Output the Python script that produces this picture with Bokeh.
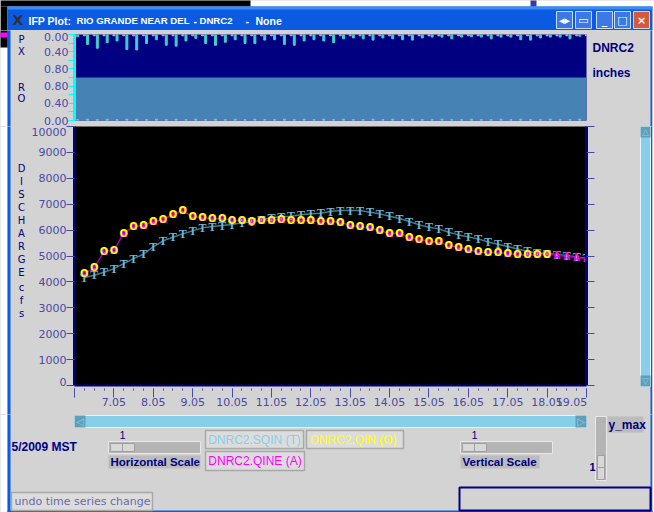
from bokeh.plotting import figure
from bokeh.layouts import column, row
from bokeh.models import BoxAnnotation, FixedTicker, LinearAxis, Range1d
from bokeh.core.properties import value
from bokeh.embed import file_html
from bokeh.resources import INLINE
import numpy as np

# ---- data -----------------------------------------------------------
qine = [4320,4539,5170,5222,5880,6125,6189,6318,6408,6602,6744,6524,6473,6434,6434,6370,6370,6344,6357,6382,6408,6382,6357,6357,6344,6344,
        6305,6176,6125,6086,5970,5880,5880,5712,5647,5557,5544,5402,5338,5248,5157,5132,5132,5106,5041,5041,5041,5054,5028,4977,4938,4887]
qin = qine[:48]
sqin = [4165,4255,4371,4513,4706,4900,5067,5351,5583,5725,5854,5970,6086,6137,6176,6215,6279,6318,6382,6486,6512,6537,6589,6627,6653,6717,
        6756,6756,6756,6692,6627,6537,6447,6331,6202,6112,6047,5918,5815,5738,5660,5544,5454,5364,5273,5183,5119,5093,5054,5015,4964,4912]
px_fcst = [.05,.23,.32,.19,.15,.35,.36,.21,.12,.25,.27,.15,.09,.21,.25,.18,.12,.21,.21,.13,.12,.23,.25,.15,.12,.15,
           .19,.10,.08,.10,.13,.08,.10,.12,.13,.08,.06,.06,.10,.06,.05,.06,.10,.06,.06,.12,.13,.08,.06,.06,.10,.04]
ro_fcst = [.02,.03,.02,.03,.02,.03,.03,.02,.03,.02,.03,.02,.03,.02,.03,.02,.03,.02,.03,.02,.02,.03,.02,.03,.02,.03,
           .02,.03,.02,.02,.03,.02,.03,.02,.03,.02,.02,.03,.02,.02,.03,.02,.02,.03,.02,.03,.02,.02,.03,.02,.02,.03]
x_mark_ticks = [6,7,8,9,10,11,12,13,14,15,16,17,18,19]
x_label_pos = [7,8,9,10,11,12,13,14,15,16,17,18,18.62]
x_labels = ["7.05","8.05","9.05","10.05","11.05","12.05","13.05","14.05","15.05","16.05","17.05","18.05","19.05"]
y_mark_ticks = [0,1000,2000,3000,4000,5000,6000,7000,8000,9000,10000]
y_label_pos = [150,1000,2000,3000,4000,5000,6000,7000,8000,9000,9800]
y_labels = ["0","1000","2000","3000","4000","5000","6000","7000","8000","9000","10000"]
p_mark_ticks = [i/5 for i in range(11)]
p_label_pos = [0,0.4,0.8,1.2,1.6,1.95]
p_labels = ["0.00","0.40","0.80","0.80","0.40","0.00"]
t_day = 6 + np.arange(1, 53) * 0.25       # six-hourly time steps, in days of May
t_bar = t_day - 0.17

GRAY = "#d3d3d3"; NAVY = "#000080"; STEEL = "#4682b4"; TICK = "#4a4aa6"; SKY = "#87ceeb"; XPBLUE = "#0a5ae2"
UI = "Liberation Sans"; DJ = "DejaVu Sans"
BG = {"background-color": GRAY}

def chrome(x0, x1, y0, y1):
    p = figure(width=x1-x0, height=y1-y0, x_range=Range1d(x0, x1), y_range=Range1d(y1, y0),
               x_axis_type=None, y_axis_type=None, output_backend="svg", toolbar_location=None,
               min_border=0, background_fill_color=GRAY, border_fill_color=GRAY, outline_line_color=None,
               styles=BG, frame_align=False)
    p.grid.visible = False
    return p

def box(p, l, t, r, b, fill, line=None, lw=1):
    p.quad(left=l, right=r, top=t, bottom=b, fill_color=fill, line_color=line, line_width=lw)

def lab(p, x, y, txt, color=NAVY, size=11, bold=False, align="left", font=UI):
    p.text([x], [y], text=[txt], text_color=color, text_font=value(font), text_font_size=f"{size}px",
           text_font_style="bold" if bold else "normal", text_align=align, text_baseline="middle")

def marks_axis(ticks, color, out, in_=0, line=NAVY, lw=3, minor=None):
    return LinearAxis(ticker=FixedTicker(ticks=ticks, minor_ticks=minor or []),
                      axis_line_color=line, axis_line_width=lw,
                      major_tick_line_color=color, major_tick_out=out, major_tick_in=in_,
                      minor_tick_line_color=color, minor_tick_out=5, minor_tick_in=in_,
                      major_label_text_color=None, major_label_text_font_size="0px", major_label_standoff=0)

def labels_axis(pos, labels, standoff=0):
    return LinearAxis(ticker=FixedTicker(ticks=pos), major_label_overrides=dict(zip(pos, labels)),
                      axis_line_color=None, major_tick_line_color=None, minor_tick_line_color=None,
                      major_tick_in=0, major_tick_out=0,
                      major_label_text_color=TICK, major_label_text_font=DJ, major_label_text_font_size="11px",
                      major_label_standoff=standoff)

# ---- title bar --------------------------------------------------------
bar = chrome(0, 654, 0, 30)
box(bar, 0, -1, 654, 31, "white")
box(bar, 0, -1, 250, 6, "black")
box(bar, 530, -1, 536, 6, "#3a3aa0")
box(bar, 0, 6, 7, 31, "black")
box(bar, 7, 6, 652, 31, XPBLUE)
box(bar, 7, 6, 652, 9, "#3a8cf5")
lab(bar, 12, 19, "X", "#303030", 14, True, font=DJ)
lab(bar, 28, 20, "IFP Plot:", "white", 10.5, True)
lab(bar, 76, 20, "RIO GRANDE NEAR DEL", "white", 9.6, True)
lab(bar, 193, 20, "-", "white", 10.5, True)
lab(bar, 199, 20, "DNRC2", "white", 9.6, True)
lab(bar, 245, 20, "-", "white", 10.5, True)
lab(bar, 255, 20, "None", "white", 10.5, True)
for l, c, s in [(556, "#3c78e8", "◂▸"), (575, "#3c78e8", "▭"), (596, "#3c78e8", "_"), (614, "#3c78e8", "□"), (633, "#d8583a", "×")]:
    box(bar, l, 11, l+16, 28, c, "#c8dcf8")
    lab(bar, l+8, 19.5, s, "white", 11, True, "center", DJ)

def side_left(y0, y1):
    p = chrome(0, 28, y0, y1)
    box(p, -1, y0-1, 7, y1+1, "white")
    box(p, 7, y0-1, 10, y1+1, XPBLUE)
    return p

# ---- row A: precipitation / runoff -------------------------------------
left_a = side_left(30, 126)
box(left_a, -1, 29, 7, 47, "black")
box(left_a, -1, 32, 7, 37, "#ff00ff")
for y, ch in [(39,"P"),(51,"X"),(87,"R"),(98,"O")]:
    lab(left_a, 21, y, ch, NAVY, 10, False, "center", DJ)

x_rng = Range1d(6, 19)
top = figure(width=559, height=96, x_range=x_rng, y_range=Range1d(0,2),
             x_axis_type=None, y_axis_type=None, output_backend="svg", toolbar_location=None,
             min_border_left=46, min_border_right=1, min_border_top=4, min_border_bottom=6,
             background_fill_color=NAVY, border_fill_color=GRAY, outline_line_color=None, styles=BG,
             frame_align=False)
top.grid.visible = False
top.add_layout(BoxAnnotation(top=1, fill_color=STEEL, fill_alpha=1, line_alpha=0, level="underlay"))
top.vbar(x=t_bar, width=0.05, top=2, bottom=[2-v for v in px_fcst], color="#40d0c8")
top.vbar(x=t_day, width=0.05, top=2, bottom=1.97, color="#d8a0d8")
top.vbar(x=t_bar, width=0.05, bottom=0, top=ro_fcst, color="#70d0c0")
top.add_layout(marks_axis(p_mark_ticks, "#00ffff", 6, line="#00ffff"), "left")
top.add_layout(labels_axis(p_label_pos, p_labels), "left")

right_a = chrome(587, 654, 30, 126)
box(right_a, 650, 29, 652, 127, XPBLUE)
box(right_a, 652, 29, 655, 127, "white")
lab(right_a, 592, 47, "DNRC2", NAVY, 12, True)
lab(right_a, 592, 72, "inches", NAVY, 12, True)

# ---- row B: discharge --------------------------------------------------
left_b = side_left(126, 414)
for y, ch in zip([168,181,194,207,220,233,246,259,272,287,300,313], "DISCHARGEcfs"):
    lab(left_b, 21, y, ch, NAVY, 10, False, "center", DJ)

main = figure(width=572, height=288, x_range=x_rng, y_range=Range1d(0,10000),
              x_axis_type=None, y_axis_type=None, output_backend="svg", toolbar_location=None,
              min_border_left=46, min_border_right=14, min_border_top=0, min_border_bottom=29,
              background_fill_color="black", border_fill_color=GRAY, outline_line_color=None, styles=BG,
              frame_align=False)
main.grid.visible = False
main.line(t_day, sqin, line_color="#3f7f8c", line_width=1.5)
main.line(t_day, qine, line_color="#a000a0", line_width=1.5)
main.text(t_day, sqin, text=["T"]*len(sqin), text_color="#6db6d8", text_font=value("Liberation Serif"),
          text_font_style="bold", text_font_size="12px", text_align="center", text_baseline="middle")
main.text(t_day, qine, text=["A"]*len(qine), text_color="#ff00ff", text_font=value(UI),
          text_font_style="bold", text_font_size="10px", text_align="center", text_baseline="middle")
main.text(t_day[:48], qin, text=["O"]*len(qin), text_color="#ffff00", text_font=value(DJ),
          text_font_style="bold", text_font_size="10px", text_align="center", text_baseline="middle")

main.add_layout(marks_axis(x_mark_ticks, TICK, 12, -3, lw=2, minor=[6+i/4 for i in range(53)]), "below")
main.add_layout(labels_axis(x_label_pos, x_labels), "below")
main.add_layout(marks_axis(y_mark_ticks, TICK, 8), "left")
main.add_layout(labels_axis(y_label_pos, y_labels), "left")
main.add_layout(marks_axis(y_mark_ticks, TICK, 8), "right")

right_b = chrome(600, 654, 126, 414)
box(right_b, 650, 125, 652, 415, XPBLUE)
box(right_b, 652, 125, 655, 415, "white")
box(right_b, 640, 126, 650, 386, SKY, "#e8f4f8")
box(right_b, 640, 126, 650, 137, "#5f9fb8")
box(right_b, 640, 375, 650, 386, "#5f9fb8")
lab(right_b, 645, 131, "△", SKY, 9, False, "center", DJ)
lab(right_b, 645, 380, "▽", SKY, 9, False, "center", DJ)

# ---- bottom controls ---------------------------------------------------
low = chrome(0, 654, 414, 512)
box(low, -1, 413, 7, 513, "white")
box(low, 7, 413, 10, 513, XPBLUE)
box(low, 650, 413, 652, 513, XPBLUE)
box(low, 652, 413, 655, 513, "white")
box(low, 7, 510, 652, 513, XPBLUE)
box(low, 74, 415, 586, 427, SKY, "#e8f4f8")
box(low, 74, 415, 85, 427, "#5f9fb8")
box(low, 575, 415, 586, 427, "#5f9fb8")
lab(low, 79.5, 421, "◁", SKY, 10, False, "center", DJ)
lab(low, 580.5, 421, "▷", SKY, 10, False, "center", DJ)

lab(low, 11, 446, "5/2009 MST", NAVY, 12, True)
lab(low, 122, 434, "1", NAVY, 11, False, "center")
box(low, 108, 441, 200, 453, "#b4b4b4", "#e8e8e8")
box(low, 110, 443, 122, 451, "#d8d8d8", "#a0a0a0")
box(low, 122, 443, 134, 451, "#d8d8d8", "#a0a0a0")
box(low, 108, 455, 200, 468, "#bcbcbc")
lab(low, 110, 461.5, "Horizontal Scale", NAVY, 11.5, True)
lab(low, 474, 434, "1", NAVY, 11, False, "center")
box(low, 460, 441, 552, 453, "#b4b4b4", "#e8e8e8")
box(low, 462, 443, 474, 451, "#d8d8d8", "#a0a0a0")
box(low, 474, 443, 486, 451, "#d8d8d8", "#a0a0a0")
box(low, 460, 455, 539, 468, "#bcbcbc")
lab(low, 462, 461.5, "Vertical Scale", NAVY, 11.5, True)
box(low, 595, 416, 606, 480, "#b4b4b4", "#e8e8e8")
box(low, 597, 455, 604, 467, "#d8d8d8", "#a0a0a0")
box(low, 597, 467, 604, 479, "#d8d8d8", "#a0a0a0")
box(low, 607, 416, 643, 432, "#bcbcbc")
lab(low, 608, 424, "y_max", NAVY, 12, True)
lab(low, 592, 466, "1", NAVY, 11, True, "center")

for l, t, r, b, txt, c in [(205, 430, 303, 448, "DNRC2.SQIN (T)", SKY),
                           (306, 430, 403, 448, "DNRC2.QIN  (O)", "#ffff00"),
                           (205, 451, 304, 470, "DNRC2.QINE (A)", "#ff00ff")]:
    box(low, l, t, r, b, "#dcdcdc", "#a8a8a8", 1.5)
    lab(low, (l+r)/2, (t+b)/2, txt, c, 12, False, "center")

box(low, 11, 492, 152, 510, "#dcdcdc", "#a8a8a8", 1.5)
lab(low, 14, 501, "undo time series change", "#6a6aaa", 11, False, "left", DJ)
box(low, 459, 487, 650, 510, GRAY, NAVY, 2)

page = column(bar, row(left_a, top, right_a, spacing=0), row(left_b, main, right_b, spacing=0), low,
              spacing=0, styles=BG)
open("out.html", "w").write(file_html(page, INLINE))
